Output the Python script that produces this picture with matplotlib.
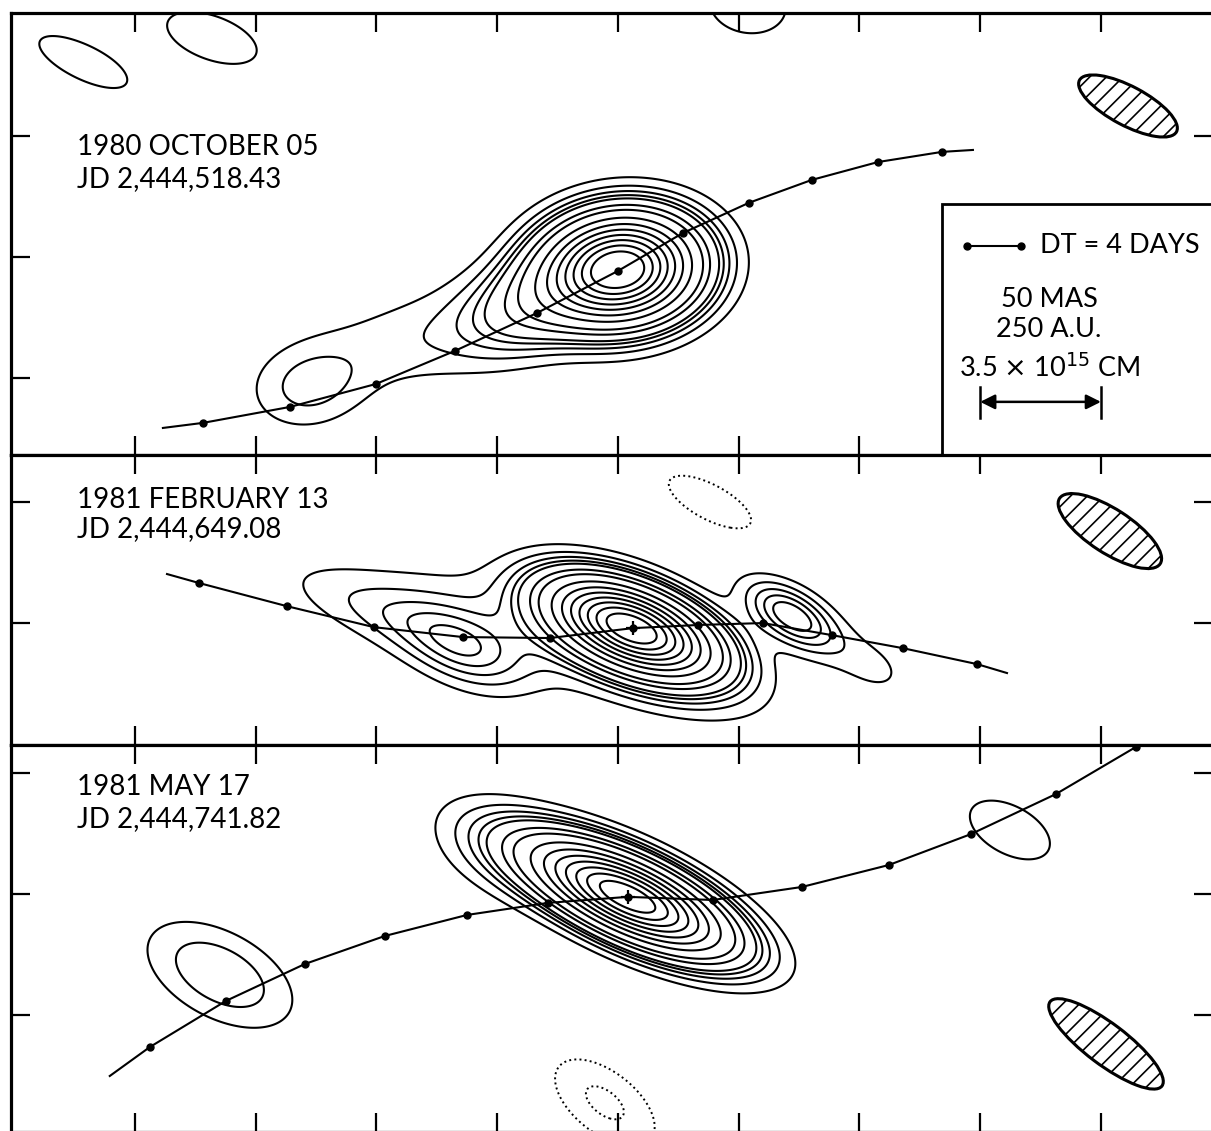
import numpy as np
import matplotlib
matplotlib.use("Agg")
import matplotlib.pyplot as plt
from matplotlib.patches import Ellipse, Rectangle

plt.rcParams['font.family'] = ['Lato', 'DejaVu Sans']
plt.rcParams['hatch.linewidth'] = 1.2

# ------------------------------------------------------------------
# DATA  (all positions in milliarcseconds relative to each map centre)
# ------------------------------------------------------------------
epoch_dates = ["1980 OCTOBER 05", "1981 FEBRUARY 13", "1981 MAY 17"]
epoch_jd = ["JD 2,444,518.43", "JD 2,444,649.08", "JD 2,444,741.82"]

# Kinematic model tracks (first / last vertices are line ends, the rest are 4-day dots)
track1_x = [-188.4, -171.8, -135.8, -100.2, -67.5, -33.5, 0.0, 26.9, 54.2, 80.3, 107.7, 134.2, 147.0]
track1_y = [-70.8, -68.7, -62.1, -52.6, -38.9, -23.2, -5.8, 9.9, 22.4, 31.9, 39.3, 43.5, 44.3]
track2_x = [-186.7, -173.5, -137.1, -101.0, -64.2, -28.2, 6.2, 33.1, 60.0, 88.6, 118.0, 148.7, 161.1]
track2_y = [20.3, 16.6, 7.0, -1.7, -5.8, -6.2, -2.1, -0.8, 0.0, -5.0, -10.4, -17.0, -20.7]
track3_x = [-210.4, -193.8, -162.3, -129.6, -96.5, -62.5, -29.0, 4.1, 39.3, 76.2, 112.2, 146.2, 181.4, 214.5]
track3_y = [-75.4, -63.4, -44.3, -29.0, -17.4, -8.7, -3.7, -1.2, -2.5, 2.9, 12.0, 24.8, 41.4, 60.9]

# Source model components: position, relative peak, sigma (major, minor), position angle
top_cx = [1.2, -30.0, -84.0, -128.0, -221.5, -168.1, 53.8]
top_cy = [-5.0, -17.0, -34.0, -54.0, 80.7, 90.7, 104.3]
top_amp = [1.0, 0.15, 0.032, 0.042, 0.03, 0.03, 0.03]
top_sa = [19.0, 22.0, 35.0, 15.5, 22.0, 21.6, 17.5]
top_sb = [13.5, 12.0, 13.5, 11.5, 7.8, 10.0, 12.8]
top_pa = [6.0, 22.0, 14.0, 12.0, -26.0, -20.0, -10.0]

mid_cx = [5.8, -64.6, 72.0, -90.0, -20.0, 104.3, 38.1]
mid_cy = [-2.1, -10.8, 2.9, 2.0, -8.0, -17.4, 50.1]
mid_amp = [1.0, 0.07, 0.12, 0.045, 0.04, 0.025, -0.03]
mid_sa = [22.0, 18.5, 14.0, 32.0, 50.0, 14.0, 21.0]
mid_sb = [10.0, 9.5, 7.0, 9.0, 12.0, 8.0, 8.0]
mid_pa = [-22.0, -25.0, -32.0, -20.0, -20.0, -30.0, -28.0]

bot_cx = [4.1, -48.9, -164.8, 162.3, -5.4]
bot_cy = [-1.2, 18.2, -33.5, 26.5, -86.5]
bot_amp = [1.0, 0.04, 0.06, 0.03, -0.045]
bot_sa = [27.0, 20.0, 22.0, 20.0, 19.0]
bot_sb = [9.5, 12.0, 12.0, 11.0, 10.0]
bot_pa = [-25.0, -25.0, -28.0, -28.0, -38.0]

levels_pos = [0.02, 0.04, 0.06, 0.08, 0.1, 0.15, 0.2, 0.3, 0.4, 0.5, 0.6, 0.7, 0.8, 0.9]
levels_neg = [-0.04, -0.02]

# Restoring beams (centre x, centre y, major, minor, angle)
beam_x = [211.2, 203.7, 202.1]
beam_y = [62.5, 38.1, -62.1]
beam_maj = [45.5, 49.7, 58.0]
beam_min = [16.2, 18.2, 17.0]
beam_pa = [-28.0, -33.0, -37.0]

core_x = [6.2, 4.1]
core_y = [-2.1, -1.2]

scale_bar_start = 150.0
scale_bar_len = 50.0

# ------------------------------------------------------------------
W, H = 1211, 1131
fig = plt.figure(figsize=(W / 100, H / 100), dpi=100)
px_left, px_right = 11, 1213
panel_px = [(13, 455), (455, 745), (745, 1132)]
xlim = (-251.3, 246.4)
ylims = [(-82.0, 101.0), (-50.5, 69.6), (-98.6, 61.7)]
yticks = [[-50, 0, 50], [0, 50], [-50, 0, 50]]


def model(X, Y, cx, cy, amp, sa, sb, pa):
    Z = np.zeros_like(X)
    for x0, y0, a, s1, s2, th in zip(cx, cy, amp, sa, sb, pa):
        t = np.deg2rad(th)
        dx, dy = X - x0, Y - y0
        u = dx * np.cos(t) + dy * np.sin(t)
        v = -dx * np.sin(t) + dy * np.cos(t)
        Z += a * np.exp(-0.5 * ((u / s1) ** 2 + (v / s2) ** 2))
    return Z


comps = [
    (top_cx, top_cy, top_amp, top_sa, top_sb, top_pa),
    (mid_cx, mid_cy, mid_amp, mid_sa, mid_sb, mid_pa),
    (bot_cx, bot_cy, bot_amp, bot_sa, bot_sb, bot_pa),
]
tracks = [(track1_x, track1_y), (track2_x, track2_y), (track3_x, track3_y)]
label_pos = [(42.2, 29.0), (47.6, 35.6), (41.0, 27.7)]

axes = []
for i, (ptop, pbot) in enumerate(panel_px):
    ax = fig.add_axes([px_left / W, 1 - pbot / H, (px_right - px_left) / W, (pbot - ptop) / H])
    axes.append(ax)
    ax.set_xlim(*xlim)
    ax.set_ylim(*ylims[i])
    ax.set_xticks(np.arange(-200, 201, 50))
    ax.set_yticks(yticks[i])
    ax.tick_params(direction='in', length=14, width=1.6, top=True, right=True,
                   labelbottom=False, labelleft=False)
    for sp in ax.spines.values():
        sp.set_linewidth(2.3)

    x = np.linspace(xlim[0], xlim[1], 1000)
    y = np.linspace(ylims[i][0], ylims[i][1], 400)
    X, Y = np.meshgrid(x, y)
    Z = model(X, Y, *comps[i])
    ax.contour(X, Y, Z, levels=levels_pos, colors='black', linewidths=1.5)
    ax.contour(X, Y, Z, levels=levels_neg, colors='black', linewidths=1.4,
               linestyles='dotted')

    tx, ty = tracks[i]
    ax.plot(tx, ty, color='black', lw=1.5, zorder=4)
    last = len(tx) if i == 2 else len(tx) - 1
    ax.plot(tx[1:last], ty[1:last], 'o', color='black', ms=5, zorder=5)

    e = Ellipse((beam_x[i], beam_y[i]), beam_maj[i], beam_min[i], angle=beam_pa[i],
                facecolor='white', edgecolor='black', lw=2.2, hatch='//', zorder=3)
    ax.add_patch(e)

    ax.text(-224.0, label_pos[i][0], epoch_dates[i], fontsize=20, va='baseline', ha='left')
    ax.text(-224.0, label_pos[i][1], epoch_jd[i], fontsize=20, va='baseline', ha='left')

for ax, cx, cy in zip(axes[1:], core_x, core_y):
    ax.plot([cx], [cy], '+', color='black', ms=10, mew=1.6, zorder=6)

# Legend box in top panel
ax = axes[0]
ax.add_patch(Rectangle((134.2, -95), 200, 117.0, facecolor='white', edgecolor='black',
                       lw=2.0, zorder=6))
ax.plot([144.7, 166.7], [4.6, 4.6], '-', color='black', lw=1.5, zorder=7)
ax.plot([144.7, 166.7], [4.6, 4.6], 'o', color='black', ms=5, zorder=7)
ax.text(174.7, 1.7, "DT = 4 DAYS", fontsize=19.5, va='baseline', ha='left', zorder=7)
ax.text(178.5, -20.7, "50 MAS", fontsize=19.5, va='baseline', ha='center', zorder=7)
ax.text(178.5, -33.1, "250 A.U.", fontsize=19.5, va='baseline', ha='center', zorder=7)
ax.text(178.5, -49.7, r"3.5 $\times$ 10$^{15}$ CM", fontsize=19.5, va='baseline', ha='center', zorder=7)
x0b, x1b = scale_bar_start, scale_bar_start + scale_bar_len
ax.plot([x0b, x0b], [-53.8, -66.7], color='black', lw=1.8, zorder=7)
ax.plot([x1b, x1b], [-53.8, -66.7], color='black', lw=1.8, zorder=7)
ax.annotate('', xy=(x0b, -60.0), xytext=(x1b, -60.0),
            arrowprops=dict(arrowstyle='<|-|>', lw=1.8, color='black', mutation_scale=22,
                            shrinkA=0, shrinkB=0), zorder=7)

fig.savefig("out.png", dpi=100)
